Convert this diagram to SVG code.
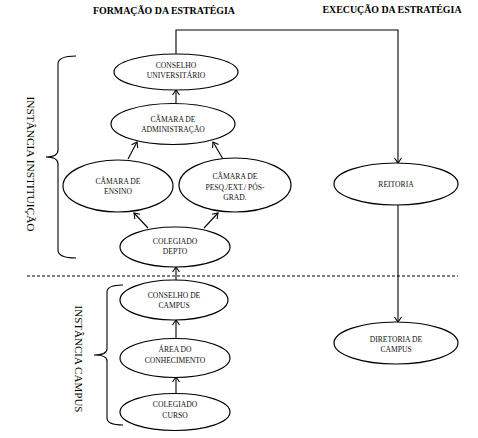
<svg xmlns="http://www.w3.org/2000/svg" width="478" height="438" viewBox="0 0 478 438">
<style>
.n ellipse{fill:#fff;stroke:#000;stroke-width:1.2}
.n text{font-family:"Liberation Serif","Times New Roman",serif;font-size:7.6px;text-anchor:middle;fill:#111}
.t{font-family:"Liberation Serif","Times New Roman",serif;font-size:10px;font-weight:bold;text-anchor:middle;fill:#000}
.s{font-family:"Liberation Serif","Times New Roman",serif;font-size:10px;text-anchor:middle;fill:#000}
.c{fill:none;stroke:#000;stroke-width:1.1}
.b{fill:none;stroke:#000;stroke-width:1.1}
</style>
<defs>
<marker id="a" markerWidth="8" markerHeight="8" refX="6" refY="4" orient="auto" markerUnits="userSpaceOnUse">
<path d="M1,0.5 L6,4 L1,7.5" fill="none" stroke="#000" stroke-width="1.1"/>
</marker>
</defs>
<rect width="478" height="438" fill="#fff"/>
<text class="t" x="164" y="14" textLength="142" lengthAdjust="spacingAndGlyphs">FORMAÇÃO DA ESTRATÉGIA</text>
<text class="t" x="392" y="13" textLength="139" lengthAdjust="spacingAndGlyphs">EXECUÇÃO DA ESTRATÉGIA</text>
<text class="s" transform="translate(27,164) rotate(90)" textLength="135" lengthAdjust="spacingAndGlyphs">INSTÂNCIA INSTITUIÇÃO</text>
<text class="s" transform="translate(75,359) rotate(90)" textLength="107" lengthAdjust="spacingAndGlyphs">INSTÂNCIA CAMPUS</text>
<path class="b" d="M76,56 Q58,56 58,64 L58,150 Q58,157 46,157 Q58,157 58,164 L58,250 Q58,258 76,258"/>
<path class="b" d="M123,285 Q107,285 107,292 L107,349 Q107,355 94,355 Q107,355 107,361 L107,418 Q107,425 123,425"/>
<line x1="27" y1="276" x2="458" y2="276" stroke="#000" stroke-width="1" stroke-dasharray="3,2"/>
<g id="connectors">
<path class="c" d="M176,54 L176,30 L398,30 L398,163" marker-end="url(#a)"/>
<line class="c" x1="176" y1="104" x2="176" y2="90" marker-end="url(#a)"/>
<line class="c" x1="128" y1="159" x2="137" y2="142" marker-end="url(#a)"/>
<line class="c" x1="223" y1="159" x2="213" y2="142" marker-end="url(#a)"/>
<line class="c" x1="148" y1="228" x2="134" y2="213" marker-end="url(#a)"/>
<line class="c" x1="204" y1="228" x2="218" y2="213" marker-end="url(#a)"/>
<line class="c" x1="176" y1="281" x2="176" y2="267" marker-end="url(#a)"/>
<line class="c" x1="176" y1="339" x2="176" y2="320" marker-end="url(#a)"/>
<line class="c" x1="176" y1="394" x2="176" y2="377" marker-end="url(#a)"/>
<line class="c" x1="398" y1="205" x2="398" y2="322" marker-end="url(#a)"/>
</g>
<g id="conselho-universitario" class="n"><ellipse cx="176" cy="72" rx="62" ry="18"/><text x="176" y="68">CONSELHO</text><text x="176" y="78">UNIVERSITÁRIO</text></g>
<g id="camara-administracao" class="n"><ellipse cx="173" cy="124" rx="62" ry="20.5"/><text x="173" y="122">CÂMARA DE</text><text x="173" y="132">ADMINISTRAÇÃO</text></g>
<g id="camara-ensino" class="n"><ellipse cx="118" cy="186" rx="55" ry="26"/><text x="118" y="184">CÂMARA DE</text><text x="118" y="194">ENSINO</text></g>
<g id="camara-pesq" class="n"><ellipse cx="235" cy="185" rx="56" ry="27"/><text x="235" y="179">CÂMARA DE</text><text x="235" y="189.5">PESQ./EXT./ PÓS-</text><text x="235" y="200">GRAD.</text></g>
<g id="colegiado-depto" class="n"><ellipse cx="175" cy="247" rx="55" ry="20"/><text x="175" y="243.5">COLEGIADO</text><text x="175" y="254">DEPTO</text></g>
<g id="conselho-campus" class="n"><ellipse cx="174" cy="300" rx="54" ry="20"/><text x="174" y="298">CONSELHO DE</text><text x="174" y="308">CAMPUS</text></g>
<g id="area-conhecimento" class="n"><ellipse cx="175" cy="358" rx="55" ry="19.5"/><text x="175" y="352">ÁREA DO</text><text x="175" y="362.5">CONHECIMENTO</text></g>
<g id="colegiado-curso" class="n"><ellipse cx="175" cy="412" rx="55" ry="18.5"/><text x="175" y="407">COLEGIADO</text><text x="175" y="418">CURSO</text></g>
<g id="reitoria" class="n"><ellipse cx="396" cy="184" rx="62" ry="21"/><text x="396" y="187">REITORIA</text></g>
<g id="diretoria-campus" class="n"><ellipse cx="396" cy="343" rx="62" ry="21"/><text x="396" y="342">DIRETORIA DE</text><text x="396" y="352">CAMPUS</text></g>
</svg>
